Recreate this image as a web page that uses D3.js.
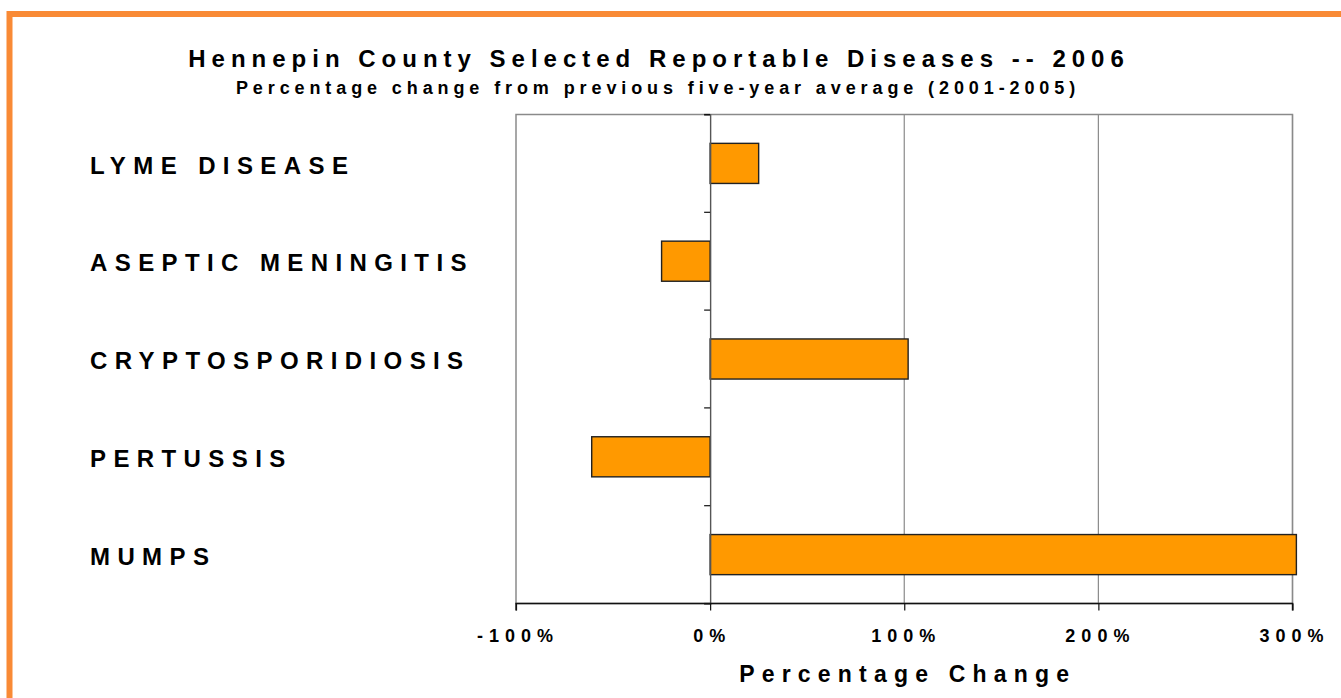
<!DOCTYPE html>
<html>
<head>
<meta charset="utf-8">
<script src="https://cdn.jsdelivr.net/npm/d3@7"></script>
<style>
  body { margin: 0; background: #fff; }
  svg text { font-family: "Liberation Sans", Arial, sans-serif; font-weight: bold; fill: #000; }
</style>
</head>
<body>
<svg id="chart" width="1341" height="698"></svg>
<script>
// data
const diseases = ["LYME DISEASE", "ASEPTIC MENINGITIS", "CRYPTOSPORIDIOSIS", "PERTUSSIS", "MUMPS"];
const pctChange = [25, -25, 102, -61, 302];
const xTicks = [-100, 0, 100, 200, 300];

const title = "Hennepin County Selected Reportable Diseases -- 2006";
const subtitle = "Percentage change from previous five-year average (2001-2005)";
const xTitle = "Percentage Change";

const rows = diseases.map((d, i) => ({name: d, value: pctChange[i]}));

const svg = d3.select("#chart");
const W = 1341, H = 698;
const plot = {left: 516, right: 1292.5, top: 114.5, bottom: 603.5};

const X = d3.scaleLinear().domain([-100, 300]).range([plot.left, plot.right]);
const Y = d3.scaleBand().domain(diseases).range([plot.top, plot.bottom]);
const barH = Y.bandwidth() * 0.41;

// orange frame
svg.append("rect")
  .attr("x", 9.5).attr("y", 14)
  .attr("width", W + 100).attr("height", H + 100)
  .attr("fill", "none").attr("stroke", "#F98A35").attr("stroke-width", 6);

// titles
svg.append("text").attr("x", 659).attr("y", 67)
  .attr("text-anchor", "middle").style("font-size", "24px").style("letter-spacing", "6px")
  .text(title);
svg.append("text").attr("x", 658).attr("y", 94)
  .attr("text-anchor", "middle").style("font-size", "18px").style("letter-spacing", "4.9px")
  .text(subtitle);

// plot frame + gridlines
svg.append("rect")
  .attr("x", plot.left).attr("y", plot.top)
  .attr("width", plot.right - plot.left).attr("height", plot.bottom - plot.top)
  .attr("fill", "none").attr("stroke", "#8a8a8a").attr("stroke-width", 1.5);

svg.append("g").selectAll("line").data(xTicks.filter(t => t > 0)).enter().append("line")
  .attr("x1", d => X(d)).attr("x2", d => X(d))
  .attr("y1", plot.top).attr("y2", plot.bottom)
  .attr("stroke", "#8a8a8a").attr("stroke-width", 1.2);

// bars
svg.append("g").selectAll("rect").data(rows).enter().append("rect")
  .attr("x", d => X(Math.min(0, d.value)))
  .attr("width", d => Math.abs(X(d.value) - X(0)))
  .attr("y", d => Y(d.name) + (Y.bandwidth() - barH) / 2)
  .attr("height", barH)
  .attr("fill", "#FF9900").attr("stroke", "#222").attr("stroke-width", 1.4);

// zero axis with category ticks on the left
const yAxis = d3.axisLeft(Y).tickSize(6).tickFormat("");
const yG = svg.append("g").attr("transform", `translate(${X(0)},0)`).call(yAxis);
yG.select(".domain").attr("stroke", "#555").attr("stroke-width", 1.4);
yG.selectAll(".tick").remove();
yG.selectAll("line.bound").data(diseases.map(d => Y(d)).concat([plot.bottom])).enter()
  .append("line").attr("class", "bound")
  .attr("x1", -6).attr("x2", 0).attr("y1", d => d).attr("y2", d => d)
  .attr("stroke", "#111").attr("stroke-width", 1.2);

// bottom axis
const xAxis = d3.axisBottom(X).tickValues(xTicks).tickSize(7).tickFormat(d => d + "%").tickPadding(19);
const xG = svg.append("g").attr("transform", `translate(0,${plot.bottom})`).call(xAxis);
xG.select(".domain").attr("stroke", "#111").attr("stroke-width", 1.4).attr("d", `M${plot.left},7V0H${plot.right}V7`);
xG.selectAll(".tick line").attr("stroke", "#111").attr("stroke-width", 1.2);
xG.selectAll(".tick text")
  .style("font-size", "18px").style("letter-spacing", "6px")
  .style("font-family", "'Liberation Sans', Arial, sans-serif").style("font-weight", "bold")
  .attr("fill", "#000").attr("dx", "1.5px");

svg.append("text").attr("x", (plot.left + plot.right) / 2 + 3.5).attr("y", 682)
  .attr("text-anchor", "middle").style("font-size", "23px").style("letter-spacing", "7.2px")
  .text(xTitle);

// category labels
svg.append("g").selectAll("text").data(diseases).enter().append("text")
  .attr("x", 90).attr("y", d => Y(d) + Y.bandwidth() / 2 + 1.5)
  .attr("dy", "0.36em")
  .style("font-size", "24px").style("letter-spacing", "7.4px")
  .text(d => d);
</script>
</body>
</html>
